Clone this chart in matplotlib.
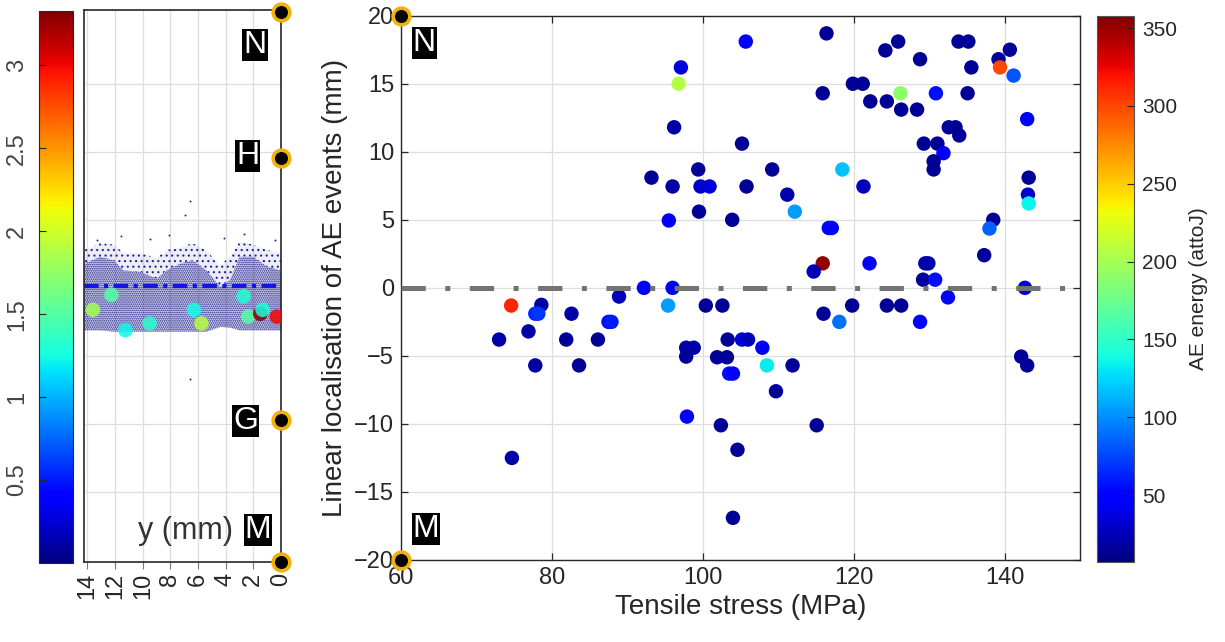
import numpy as np
import matplotlib
matplotlib.use("Agg")
import matplotlib.pyplot as plt
from matplotlib import cm, colors

plt.rcParams['font.family'] = ['Liberation Sans', 'DejaVu Sans']
plt.rcParams['hatch.linewidth'] = 0.8

W, H = 1225, 642

# AE events: tensile stress (MPa), linear position (mm), energy (attoJ)
stress = [97.1, 96.8, 96.2, 93.2, 96.0, 95.5, 92.2, 96.0, 95.4, 74.6,
          78.6, 77.8, 78.2, 82.6, 87.5, 87.9, 88.9, 73.0, 76.9, 77.8,
          81.9, 83.6, 86.1, 74.7, 97.9, 97.8, 98.8, 97.8, 105.7, 116.4,
          124.2, 125.9, 128.8, 133.9, 135.2, 139.2, 140.7, 135.6, 139.4, 141.2,
          115.9, 119.9, 121.2, 122.2, 124.4, 126.2, 126.3, 128.4, 130.9, 135.1,
          143.0, 132.6, 133.5, 134.0, 129.3, 131.1, 131.9, 130.6, 130.6, 105.2,
          99.4, 99.7, 100.9, 105.8, 109.2, 118.5, 121.3, 111.2, 112.2, 99.5,
          103.9, 116.7, 117.1, 143.2, 143.1, 143.2, 138.5, 138.0, 137.3, 115.9,
          114.7, 122.1, 129.5, 129.9, 129.2, 130.8, 132.5, 142.7, 100.4, 102.6,
          119.8, 124.4, 126.3, 116.0, 118.1, 128.8, 103.3, 105.2, 106.0, 101.9,
          103.2, 103.5, 104.0, 107.9, 108.5, 111.9, 109.7, 102.4, 115.1, 104.6,
          104.0, 142.2, 143.0]
position = [16.2, 15.0, 11.8, 8.1, 7.45, 4.95, 0.0, 0.0, -1.3, -1.3,
            -1.25, -1.9, -1.9, -1.9, -2.5, -2.5, -0.64, -3.8, -3.2, -5.7,
            -3.8, -5.7, -3.8, -12.5, -9.46, -4.4, -4.4, -5.05, 18.1, 18.7,
            17.45, 18.1, 16.8, 18.1, 18.1, 16.8, 17.5, 16.2, 16.2, 15.6,
            14.3, 15.0, 15.0, 13.7, 13.7, 14.3, 13.1, 13.1, 14.3, 14.3,
            12.4, 11.8, 11.8, 11.2, 10.6, 10.6, 9.9, 9.3, 8.7, 10.6,
            8.7, 7.45, 7.45, 7.45, 8.7, 8.7, 7.45, 6.85, 5.6, 5.6,
            5.0, 4.4, 4.4, 8.1, 6.85, 6.2, 5.0, 4.36, 2.4, 1.8,
            1.2, 1.8, 1.8, 1.8, 0.6, 0.6, -0.7, 0.0, -1.3, -1.3,
            -1.3, -1.3, -1.3, -1.9, -2.5, -2.5, -3.8, -3.8, -3.8, -5.1,
            -5.1, -6.3, -6.3, -4.4, -5.7, -5.7, -7.6, -10.1, -10.1, -11.9,
            -16.9, -5.05, -5.7]
energy = [35, 205, 18, 15, 18, 45, 50, 45, 105, 312,
          18, 65, 70, 20, 55, 60, 25, 18, 18, 18,
          15, 15, 15, 18, 50, 18, 20, 15, 48, 15,
          15, 15, 15, 15, 15, 15, 15, 15, 300, 80,
          15, 15, 15, 15, 15, 190, 15, 15, 55, 15,
          45, 15, 15, 15, 15, 15, 45, 15, 15, 15,
          15, 30, 35, 15, 15, 118, 25, 22, 105, 15,
          15, 50, 52, 15, 30, 135, 15, 85, 15, 352,
          25, 45, 20, 22, 15, 55, 50, 35, 15, 15,
          15, 15, 15, 15, 90, 50, 15, 35, 25, 15,
          15, 55, 50, 48, 132, 15, 15, 15, 15, 15,
          15, 15, 15]

# specimen map: event band envelope and large events (x mm, y mm, value)
band_x = [14.25, 13.1, 12.1, 11.4, 10.2, 9.0, 8.3, 7.3, 6.4, 5.4, 4.4, 3.7, 3.0, 2.0, 1.0, 0.0]
band_top = [1.8, 2.3, 2.06, 1.3, 1.2, 0.7, 1.3, 1.8, 2.06, 1.3, 0.1, 0.6, 2.3, 2.3, 1.57, 1.3]
band_bottom = [-3.1, -3.1, -3.2, -3.2, -3.2, -3.2, -3.2, -3.2, -3.2, -3.2, -2.85, -2.9, -3.1, -3.1, -3.1, -3.1]
fringe_top = [2.8, 3.3, 3.2, 2.6, 2.6, 2.2, 2.8, 3.0, 3.3, 2.8, 1.6, 2.4, 3.4, 3.2, 2.8, 2.6]
stray_x = [6.6, 6.95, 6.6, 11.6, 9.5, 4.1, 2.7, 13.3, 8.1, 0.4]
stray_y = [6.4, 5.4, -6.7, 3.8, 3.6, 3.7, 4.0, 3.5, 3.9, 3.5]
big_x = [12.27, 13.6, 11.25, 9.5, 6.3, 5.75, 2.7, 2.37, 1.5, 1.33, 0.3]
big_y = [-0.5, -1.6, -3.1, -2.6, -1.6, -2.6, -0.6, -2.1, -1.9, -1.6, -2.1]
big_val = [1.5, 1.83, 1.23, 1.33, 1.25, 1.9, 1.3, 1.5, 3.3, 1.25, 3.0]

# end markers and their labels
end_y = [20.3, 9.6, -9.7, -20.15]
end_names = ['N', 'H', 'G', 'M']
name_x = [1.88, 2.39, 2.54, 1.67]
name_y = [17.9, 9.7, -9.8, -17.8]


def box(x0, y0, x1, y1):
    return [x0 / W, 1 - y1 / H, (x1 - x0) / W, (y1 - y0) / H]


fig = plt.figure(figsize=(W / 100, H / 100), dpi=100)
ink = '#262626'
gold = '#f2b200'
tag = dict(fontsize=23, color='white', ha='center', va='center',
           bbox=dict(boxstyle='square,pad=0.03', fc='black', ec='none'))

# ---- main scatter ----
ax = fig.add_axes(box(401, 15.7, 1080, 560))
norm = colors.Normalize(7, 358)
sc = ax.scatter(stress, position, c=energy, cmap='jet', norm=norm, s=108,
                linewidths=0, zorder=3)
ax.axhline(0, color='#737373', lw=3.6, dashes=(4.86, 3.9, 1.0, 3.9), zorder=4)
ax.set_xlim(60, 150)
ax.set_ylim(-20, 20)
ax.set_xticks([60, 80, 100, 120, 140])
ax.set_yticks(range(-20, 21, 5))
ax.grid(True, color='#dedede', lw=0.9)
ax.set_axisbelow(True)
ax.tick_params(direction='in', top=True, right=True, length=5, width=0.9,
               labelsize=17, labelcolor=ink, color=ink, pad=5)
for s in ax.spines.values():
    s.set_color(ink)
    s.set_linewidth(1.0)
ax.set_xlabel('Tensile stress (MPa)', fontsize=20, color=ink, labelpad=4)
ax.set_ylabel('Linear localisation of AE events (mm)', fontsize=20, color=ink, labelpad=4)
ax.plot([60, 60], [20, -20], 'o', ms=12, mfc='black', mec=gold, mew=2.6,
        clip_on=False, zorder=6)
ax.text(63.1, 18.0, 'N', **tag)
ax.text(63.3, -17.7, 'M', **tag)

# ---- energy colorbar ----
cax = fig.add_axes(box(1097, 15.7, 1134, 562))
cb = fig.colorbar(sc, cax=cax)
cb.set_ticks([50, 100, 150, 200, 250, 300, 350])
cb.outline.set_edgecolor('#555555')
cax.tick_params(direction='in', length=5, labelsize=15, labelcolor=ink, color=ink, pad=6)
cb.set_label('AE energy (attoJ)', fontsize=15, color=ink, labelpad=8)

# ---- specimen map ----
lx = fig.add_axes(box(84, 10, 281, 562))
lx.fill_between(band_x, band_bottom, fringe_top, color='#1c1c8c', alpha=0.08, linewidth=0)
lx.fill_between(band_x, band_top, fringe_top, facecolor='none', edgecolor='#24249a',
                hatch='...', linewidth=0)
lx.fill_between(band_x, band_bottom, band_top, color='#1c1c8c', alpha=0.12, linewidth=0)
lx.fill_between(band_x, band_bottom, band_top, facecolor='none', edgecolor='#1c1c8c',
                hatch='........', linewidth=0)
lx.scatter(stray_x, stray_y, s=2, color='#24249a', linewidths=0)
lx.axhline(0.15, color='#1414e6', lw=3, dashes=(3.5, 1.3, 1.0, 1.3))
lx.scatter(big_x, big_y, c=big_val, cmap='jet', vmin=0, vmax=3.33, s=110,
           alpha=0.85, linewidths=0, zorder=4)
lx.set_xlim(14.25, 0)
lx.set_ylim(-20.15, 20.45)
lx.set_xticks(range(0, 15, 2))
lx.set_yticks(range(-15, 16, 5))
lx.grid(True, color='#dedede', lw=0.9)
lx.set_axisbelow(True)
lx.tick_params(axis='x', direction='out', length=5, labelsize=17, labelrotation=90,
               labelcolor=ink, color='#777777', pad=3)
lx.tick_params(axis='y', left=False, labelleft=False)
for s in lx.spines.values():
    s.set_color(ink)
    s.set_linewidth(1.2)
lx.plot([0] * len(end_y), end_y, 'o', ms=12, mfc='black', mec=gold, mew=2.6,
        clip_on=False, zorder=6)
for nm, xx, yy in zip(end_names, name_x, name_y):
    lx.text(xx, yy, nm, **tag)
lx.text(6.9, -17.9, 'y (mm)', fontsize=22, color='#333333', ha='center', va='center')

# ---- colour scale of the specimen map ----
kax = fig.add_axes(box(39, 10.7, 73, 563))
kb = fig.colorbar(cm.ScalarMappable(colors.Normalize(0, 3.33), 'jet'), cax=kax)
kb.set_ticks([0.5, 1, 1.5, 2, 2.5, 3])
kb.set_ticklabels(['0.5', '1', '1.5', '2', '2.5', '3'])
kb.outline.set_edgecolor(ink)
kax.yaxis.set_ticks_position('left')
kax.tick_params(direction='in', length=5, labelsize=17, labelcolor='#444444',
                color=ink, pad=8)
for t in kax.get_yticklabels():
    t.set_rotation(90)
    t.set_va('center')

fig.savefig('out.png', dpi=100)
